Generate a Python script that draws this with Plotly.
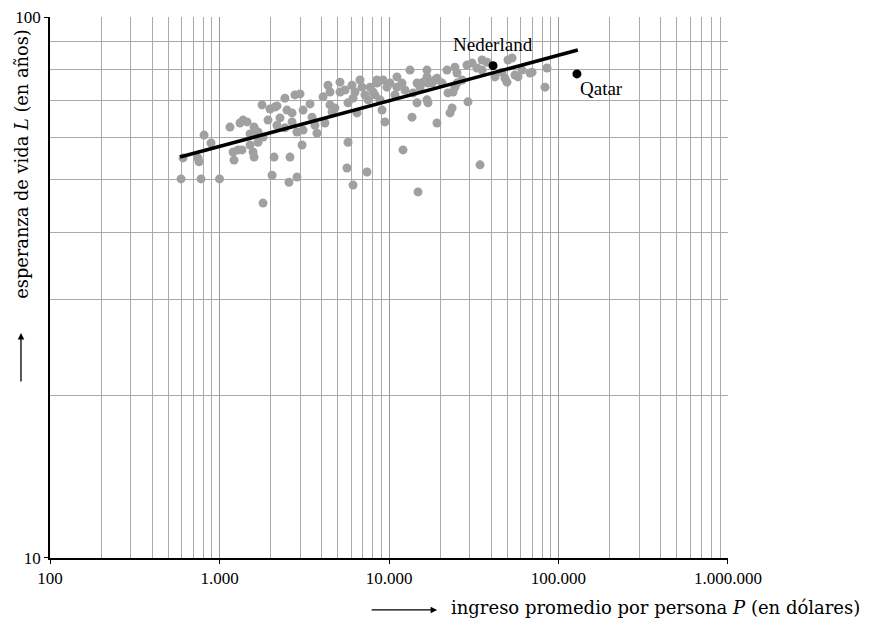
import math
import plotly.graph_objects as go

# Income per person P (dollars) and life expectancy L (years)
income = [593, 778, 1000, 811, 891, 746, 757, 609, 1153, 1321, 1377, 1453, 1600, 1514,
          1202, 1286, 1218, 1358, 1578, 1600, 1806, 1687, 1806, 1687, 1514, 1782, 1986,
          2125, 2183, 2432, 2500, 2679, 2786, 2985, 3112, 3420, 3516, 4083, 4188, 3656,
          3112, 3069, 2606, 2099, 2183, 2432, 2864, 2042, 2570, 2864, 3758, 1932, 2275,
          4365, 5140, 5140, 4487, 4797, 4613, 6050, 6135, 6475, 5730, 6935, 7215, 7730,
          7520, 8490, 9225, 9730, 10140, 11140, 9100, 9465, 11140, 11930, 8050, 8490,
          5730, 5650, 7415, 6135, 6745, 8260, 10840, 8850, 6300, 5500, 13300, 14630,
          15240, 13670, 16750, 16750, 16980, 18670, 20550, 14630, 16750, 16980, 19200,
          22910, 23550, 21990, 24490, 28840, 30900, 33040, 23880, 24490, 25180, 29240,
          26980, 13870, 15880, 17950, 19200, 22290, 25180, 12100, 14830, 34440, 12420,
          35400, 37880, 50350, 53210, 42200, 48310, 49660, 57680, 67920, 69820, 85540,
          83230, 55340, 46420, 35400, 60940, 2679, 4487]
life = [50.2, 50.2, 50.2, 60.5, 58.5, 54.9, 54.0, 54.9, 62.6, 63.7, 64.5, 64.0, 62.6, 60.8,
        56.3, 56.8, 54.4, 56.8, 56.3, 55.1, 45.3, 61.3, 60.0, 58.7, 58.0, 68.8, 67.6,
        68.2, 68.5, 70.8, 67.3, 66.5, 71.8, 72.1, 67.3, 69.1, 65.3, 71.2, 63.7, 63.1,
        61.8, 58.0, 55.1, 55.1, 63.1, 62.4, 61.3, 51.0, 49.5, 50.6, 61.0, 64.5, 65.1,
        74.8, 75.8, 72.7, 68.8, 67.9, 66.8, 74.8, 70.8, 66.5, 69.4, 74.2, 71.8, 74.2,
        70.3, 76.5, 76.5, 74.2, 75.5, 77.5, 67.3, 64.0, 74.2, 75.5, 72.7, 75.5,
        58.7, 52.6, 51.7, 48.9, 76.5, 71.8, 71.8, 70.3, 72.7, 73.3, 79.8, 75.5,
        74.2, 65.3, 79.8, 77.5, 75.5, 76.5, 75.5, 69.4, 70.3, 69.4, 63.7,
        66.5, 67.9, 79.8, 80.8, 81.5, 82.2, 80.5, 72.7, 74.2, 75.5, 69.7,
        76.5, 72.4, 75.8, 75.5, 77.1, 72.4, 78.8, 56.8, 47.5, 53.3, 73.3,
        83.3, 82.5, 83.3, 84.0, 77.5, 77.1, 75.8, 77.5, 78.8, 79.1, 80.5,
        74.2, 78.1, 79.1, 79.8, 79.8, 64.0, 72.7]

# Highlighted countries
hl_names = ["Nederland", "Qatar"]
hl_income = [41100, 128500]
hl_life = [81.3, 78.5]

# Trend line end points
trend_income = [585, 130000]
trend_life = [55.1, 86.9]

# Axis ticks
x_tickvals = [100, 1000, 10000, 100000, 1000000]
x_ticktext = ["100", "1.000", "10.000", "100.000", "1.000.000"]
y_tickvals = [10, 100]
y_ticktext = ["10", "100"]

SERIF = "Liberation Serif"
TITLE_FONT = "DejaVu Serif"

fig = go.Figure()
fig.add_trace(go.Scatter(x=income, y=life, mode="markers",
                         marker=dict(size=9, color="#a0a0a0"), hoverinfo="skip"))
fig.add_trace(go.Scatter(x=trend_income, y=trend_life, mode="lines",
                         line=dict(color="black", width=3.5), hoverinfo="skip"))
fig.add_trace(go.Scatter(x=hl_income, y=hl_life, mode="markers",
                         marker=dict(size=9, color="black"), hoverinfo="skip"))

# Country labels
fig.add_annotation(x=math.log10(hl_income[0]), y=math.log10(hl_life[0]),
                   text=hl_names[0], showarrow=False, yshift=21,
                   font=dict(family=SERIF, size=19, color="black"))
fig.add_annotation(x=math.log10(hl_income[1]), y=math.log10(hl_life[1]),
                   text=hl_names[1], showarrow=False, xanchor="left", xshift=1, yshift=-15,
                   font=dict(family=SERIF, size=19, color="black"))

# Axis titles with arrows
fig.add_annotation(xref="paper", yref="paper", x=1.1976, y=-0.091,
                   xanchor="right", yanchor="middle",
                   text="ingreso promedio por persona <i>P</i> (en dólares)", showarrow=False,
                   font=dict(family=TITLE_FONT, size=18, color="black"))
fig.add_annotation(xref="paper", yref="paper", x=-0.0413, y=0.982,
                   xanchor="center", yanchor="top",
                   text="esperanza de vida <i>L</i> (en años)", showarrow=False, textangle=-90,
                   font=dict(family=TITLE_FONT, size=17.8, color="black"))
fig.add_annotation(xref="paper", yref="paper",
                   x=0.571, y=-0.096, ax=-67, ay=0, text="", showarrow=True,
                   arrowhead=2, arrowsize=1, arrowwidth=1.3, arrowcolor="black")
fig.add_annotation(xref="paper", yref="paper",
                   x=-0.0428, y=0.416, ax=0, ay=50, text="", showarrow=True,
                   arrowhead=2, arrowsize=1, arrowwidth=1.3, arrowcolor="black")

grid_major = "#999999"
grid_minor = "#aaaaaa"
common = dict(type="log", showgrid=True, gridcolor=grid_major, gridwidth=1,
              showline=True, linecolor="black", linewidth=1.5,
              ticks="outside", ticklen=4, tickcolor="black",
              tickfont=dict(family=SERIF, size=17, color="black"),
              zeroline=False, automargin=False)
fig.update_xaxes(range=[2 - 1e-4, 6 + 1e-4], tickvals=x_tickvals, ticktext=x_ticktext,
                 minor=dict(dtick="D1", showgrid=True, gridcolor=grid_minor, gridwidth=1, ticks=""),
                 **common)
fig.update_yaxes(range=[1 - 1e-4, 2 + 1e-4], tickvals=y_tickvals, ticktext=y_ticktext,
                 minor=dict(dtick="D1", showgrid=True, gridcolor=grid_minor, gridwidth=1, ticks=""),
                 **common)

# The page body adds an 8px offset; size and margins compensate for it
fig.update_layout(width=866, height=611, showlegend=False,
                  margin=dict(l=42, r=146, t=9, b=61),
                  plot_bgcolor="white", paper_bgcolor="white")

fig.write_html("out.html")
